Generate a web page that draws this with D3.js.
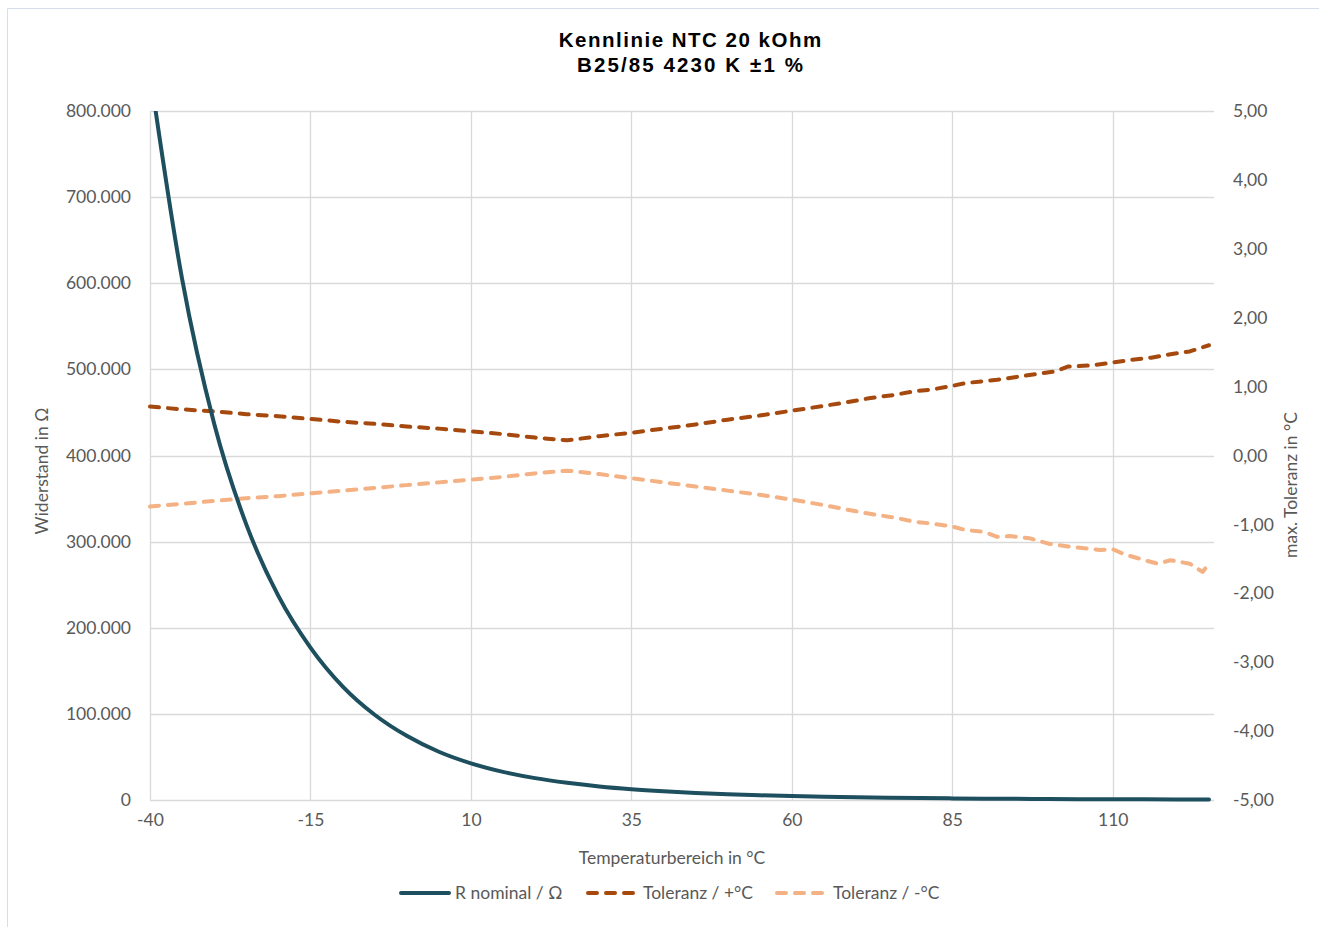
<!DOCTYPE html>
<html><head><meta charset="utf-8">
<script src="https://cdn.jsdelivr.net/npm/d3@7"></script>
<style>
html,body{margin:0;padding:0;background:#fff;}
svg{display:block;}
</style></head>
<body><svg id="c" width="1319" height="927"></svg>
<script>
// ---- data ----
const titleLines = ["Kennlinie NTC 20 kOhm", "B25/85 4230 K \u00B11 %"];
const xTicks = [-40, -15, 10, 35, 60, 85, 110];
const leftTicks = [0, 100000, 200000, 300000, 400000, 500000, 600000, 700000, 800000];
const rightTicks = [-5, -4, -3, -2, -1, 0, 1, 2, 3, 4, 5];

const tempsR = [-40,-35,-30,-25,-20,-15,-10,-5,0,5,10,15,20,25,30,35,40,45,50,55,60,65,70,75,80,85,90,95,100,105,110,115,120,125];
const rNominal = [845000,605000,437000,320000,237000,177000,132000,99000,74500,56000,42600,32700,25400,20000,15800,12600,10150,8200,6680,5470,4510,3730,3110,2600,2190,1860,1580,1350,1160,1000,865,750,655,570];

const tempsPlus = [-40,-35,-30,-25,-20,-15,-10,-5,0,5,10,15,20,25,30,35,40,45,50,55,60,65,69,72,76,79,82,85,87,90,92,95,98,101,103,107,110,113,116,119,122,125];
const tolPlus   = [0.71,0.67,0.64,0.60,0.57,0.53,0.49,0.46,0.42,0.39,0.35,0.31,0.26,0.22,0.28,0.33,0.39,0.45,0.52,0.58,0.65,0.72,0.78,0.83,0.88,0.93,0.96,1.01,1.05,1.08,1.10,1.14,1.18,1.22,1.29,1.31,1.35,1.39,1.42,1.47,1.51,1.60];

const tempsMinus = [-40,-35,-30,-25,-20,-15,-10,-5,0,5,10,15,20,25,30,35,40,45,50,55,60,65,70,73,76,79,82,85,87,90,92,94,97,100,103,106,108,110,112,115,117,119,122,124,125];
const tolMinus   = [-0.74,-0.70,-0.66,-0.62,-0.59,-0.55,-0.51,-0.47,-0.43,-0.39,-0.35,-0.31,-0.26,-0.22,-0.27,-0.33,-0.39,-0.45,-0.51,-0.57,-0.64,-0.72,-0.81,-0.86,-0.90,-0.96,-0.99,-1.03,-1.08,-1.11,-1.18,-1.17,-1.20,-1.28,-1.32,-1.35,-1.37,-1.36,-1.44,-1.52,-1.57,-1.52,-1.57,-1.69,-1.57];

const seriesNames = ["R nominal / \u03A9", "Toleranz / +\u00B0C", "Toleranz / -\u00B0C"];
const xTitle = "Temperaturbereich in \u00B0C";
const yLeftTitle = "Widerstand in \u03A9";
const yRightTitle = "max. Toleranz in \u00B0C";

// ---- setup ----
const svg = d3.select("#c");
const font = "Lato, 'Open Sans', sans-serif";
const fs = "17.5px";
const txt = "#595959";
const grid = "#D9D9D9";
const colR = "#1D4F5E", colP = "#A5490E", colM = "#F4B183";

const loc = d3.formatLocale({decimal: ",", thousands: ".", grouping: [3], currency: ["", ""], minus: "-"});
const fmtL = loc.format(",.0f"), fmtR = loc.format(".2f"), fmtX = loc.format("d");

const pl = 150, pr = 1214, pt = 111, pb = 800;
const x = d3.scaleLinear().domain([-40, 125]).range([pl, 1209]);
const yL = d3.scaleLinear().domain([0, 800000]).range([pb, pt]);
const yR = d3.scaleLinear().domain([-5, 5]).range([pb, pt]);

// chart border
svg.append("line").attr("x1", 7.5).attr("x2", 1319).attr("y1", 8.5).attr("y2", 8.5).attr("stroke", "#D5DFEA").attr("stroke-width", 1);
svg.append("line").attr("x1", 7.5).attr("x2", 7.5).attr("y1", 8.5).attr("y2", 927).attr("stroke", "#D5DFEA").attr("stroke-width", 1);

// gridlines
const g = svg.append("g");
g.selectAll(".hg").data(leftTicks).join("line")
  .attr("x1", pl).attr("x2", pr).attr("y1", d => Math.round(yL(d)) + 0.5).attr("y2", d => Math.round(yL(d)) + 0.5)
  .attr("stroke", grid).attr("stroke-width", 1.3);
g.selectAll(".vg").data(xTicks).join("line")
  .attr("y1", pt).attr("y2", pb).attr("x1", d => Math.round(x(d)) + 0.5).attr("x2", d => Math.round(x(d)) + 0.5)
  .attr("stroke", grid).attr("stroke-width", 1.3);

// axes
function styleAxis(sel) {
  sel.select(".domain").remove();
  sel.selectAll(".tick line").remove();
  sel.selectAll("text").attr("fill", txt).style("font-family", font).style("font-size", fs);
}
svg.append("g").attr("transform", `translate(${pl},0)`)
  .call(d3.axisLeft(yL).tickValues(leftTicks).tickFormat(fmtL).tickPadding(19).tickSize(0)).call(styleAxis);
svg.append("g").attr("transform", `translate(${pr},0)`)
  .call(d3.axisRight(yR).tickValues(rightTicks).tickFormat(fmtR).tickPadding(19).tickSize(0)).call(styleAxis);
svg.append("g").attr("transform", `translate(0,${pb})`)
  .call(d3.axisBottom(x).tickValues(xTicks).tickFormat(fmtX).tickPadding(14).tickSize(0)).call(styleAxis);

// titles
const spacing = [1.5, 2.1];
const t = svg.append("text").attr("text-anchor", "middle")
  .style("font-family", "'Liberation Sans', Arial, sans-serif").style("font-weight", "bold").style("font-size", "20.5px").attr("fill", "#000");
t.selectAll("tspan").data(titleLines).join("tspan")
  .attr("x", (d, i) => 690 + spacing[i] / 2).attr("y", (d, i) => 47 + i * 25)
  .style("letter-spacing", (d, i) => spacing[i] + "px").text(d => d);

svg.append("text").attr("x", 672).attr("y", 864).attr("text-anchor", "middle").attr("fill", txt)
  .style("font-family", font).style("font-size", fs).text(xTitle);
svg.append("text").attr("transform", "translate(48,471) rotate(-90)").attr("text-anchor", "middle").attr("fill", txt)
  .style("font-family", font).style("font-size", fs).text(yLeftTitle);
svg.append("text").attr("transform", "translate(1297,485) rotate(-90)").attr("text-anchor", "middle").attr("fill", txt)
  .style("font-family", font).style("font-size", fs).text(yRightTitle);

// clip
svg.append("clipPath").attr("id", "clip").append("rect").attr("x", pl - 10).attr("y", pt).attr("width", pr - pl + 20).attr("height", pb - pt + 10);
const plot = svg.append("g").attr("clip-path", "url(#clip)");

const lineR = d3.line().x((d, i) => x(tempsR[i])).y(d => yL(d)).curve(d3.curveMonotoneX);
const lineP = d3.line().x((d, i) => x(tempsPlus[i])).y(d => yR(d));
const lineM = d3.line().x((d, i) => x(tempsMinus[i])).y(d => yR(d));

plot.append("path").attr("d", lineM(tolMinus)).attr("fill", "none").attr("stroke", colM).attr("stroke-width", 4)
  .attr("stroke-dasharray", "9,9").attr("stroke-linecap", "round").attr("stroke-linejoin", "round");
plot.append("path").attr("d", lineP(tolPlus)).attr("fill", "none").attr("stroke", colP).attr("stroke-width", 4)
  .attr("stroke-dasharray", "9,9").attr("stroke-linecap", "round").attr("stroke-linejoin", "round");
plot.append("path").attr("d", lineR(rNominal)).attr("fill", "none").attr("stroke", colR).attr("stroke-width", 4)
  .attr("stroke-linecap", "round").attr("stroke-linejoin", "round");

// legend
const legY = 893;
const leg = [
  {x1: 401, x2: 449, tx: 455, col: colR, dash: null},
  {x1: 588, x2: 633, tx: 643, col: colP, dash: "9,9"},
  {x1: 777, x2: 822, tx: 833, col: colM, dash: "9,9"}
];
leg.forEach((l, i) => {
  svg.append("line").attr("x1", l.x1).attr("x2", l.x2).attr("y1", legY).attr("y2", legY)
    .attr("stroke", l.col).attr("stroke-width", 4).attr("stroke-linecap", "round")
    .attr("stroke-dasharray", l.dash);
  svg.append("text").attr("x", l.tx).attr("y", legY).attr("dy", "0.35em").attr("fill", txt)
    .style("font-family", font).style("font-size", fs).text(seriesNames[i]);
});
</script>
</body></html>
